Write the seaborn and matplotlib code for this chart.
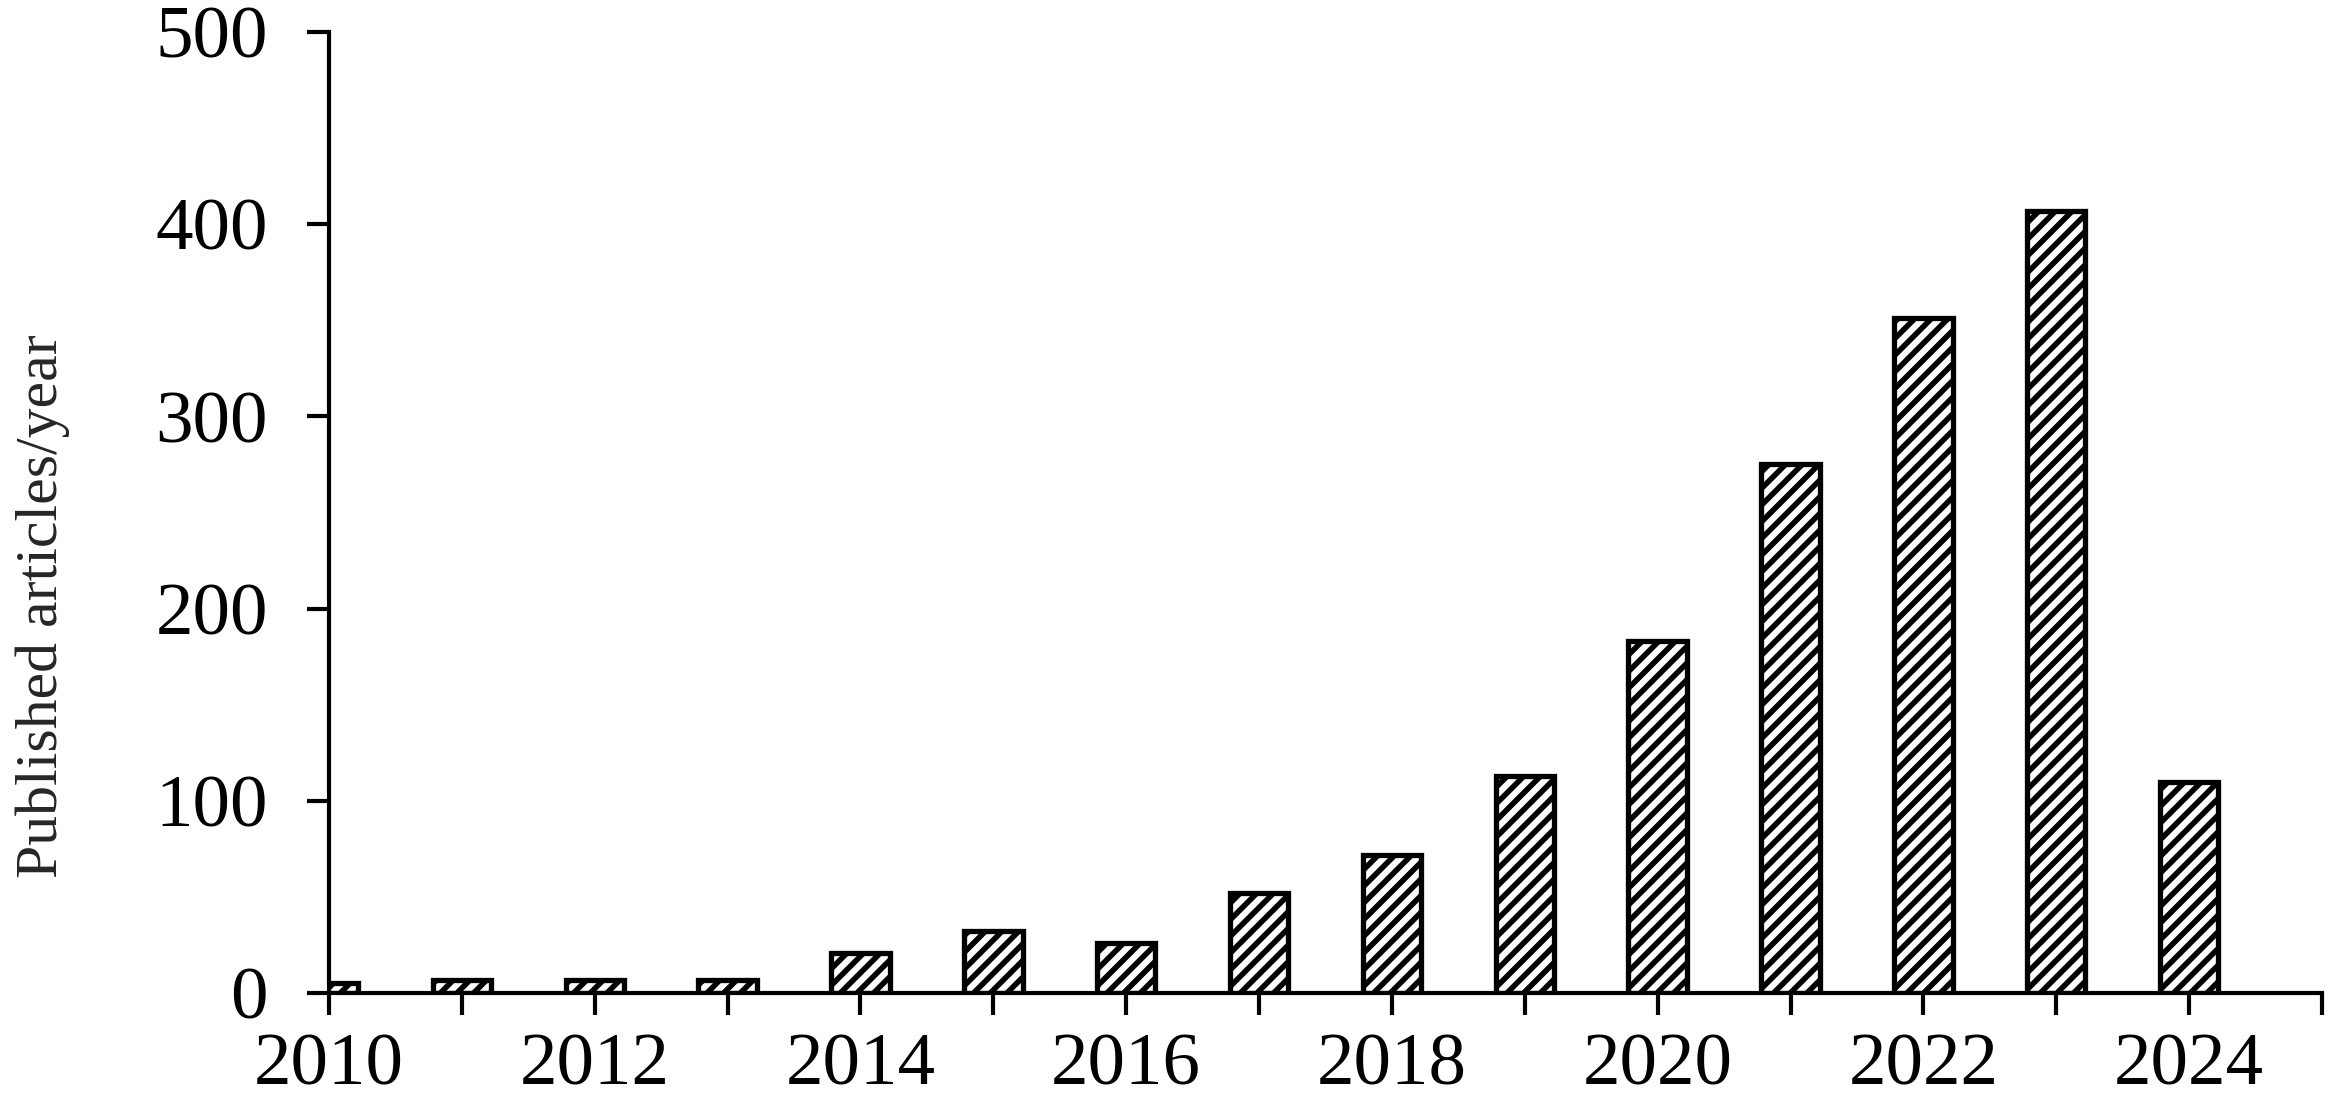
import matplotlib
matplotlib.use("Agg")
import matplotlib.pyplot as plt
import seaborn as sns
import pandas as pd

years = [2010, 2011, 2012, 2013, 2014, 2015, 2016, 2017, 2018, 2019, 2020, 2021, 2022, 2023, 2024]
articles = [5, 7, 7, 7, 21, 32, 26, 52, 72, 113, 183, 275, 351, 407, 110]
xtick_years = list(range(2010, 2026))
xtick_labels = [str(y) if y % 2 == 0 and y <= 2024 else "" for y in xtick_years]
yticks = [0, 100, 200, 300, 400, 500]
ylabel = "Published articles/year"

sns.set_style("white")
plt.rcParams["font.family"] = ["Liberation Serif", "DejaVu Serif"]
plt.rcParams["hatch.linewidth"] = 4.0
plt.rcParams["hatch.color"] = "black"

df = pd.DataFrame({"year": years, "articles": articles})

W, H = 2328, 1106
fig = plt.figure(figsize=(W / 100, H / 100), dpi=100)
ax = fig.add_axes([329 / W, 1 - 993 / H, (2322 - 329) / W, (993 - 32) / H])

sns.barplot(data=df, x="year", y="articles", native_scale=True, width=0.44,
            color="white", edgecolor="black", linewidth=3.8, hatch="//",
            errorbar=None, ax=ax, zorder=1)

ax.set_xlim(2010, 2025)
ax.set_ylim(0, 500)
ax.set_xticks(xtick_years)
ax.set_xticklabels(xtick_labels)
ax.set_yticks(yticks)
ax.set_yticklabels([str(v) for v in yticks])

for s in ["top", "right"]:
    ax.spines[s].set_visible(False)
for s in ["left", "bottom"]:
    ax.spines[s].set_linewidth(3.0)
    ax.spines[s].set_color("black")
    ax.spines[s].set_zorder(3)

ax.tick_params(axis="both", which="major", direction="out", length=16, width=3.0,
               colors="black", labelsize=54)
ax.tick_params(axis="x", pad=13)
ax.tick_params(axis="y", pad=28)
ax.tick_params(axis="x", bottom=True)
ax.tick_params(axis="y", left=True)

ax.set_xlabel("")
ax.set_ylabel(ylabel, fontsize=43)
ax.yaxis.set_label_coords(-0.130, 0.403)
ax.grid(False)

fig.savefig("out.png", dpi=100, facecolor="white")
